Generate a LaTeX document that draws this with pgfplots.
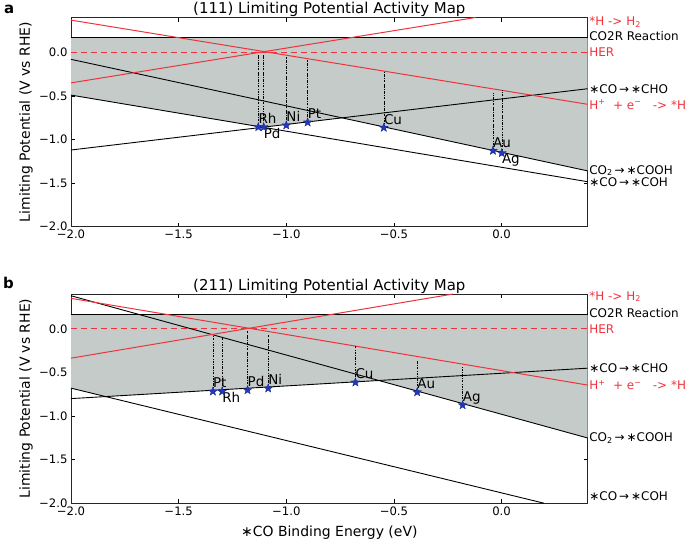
\documentclass[border=0pt]{standalone}
\usepackage{pgfplots}
\pgfplotsset{compat=1.18}
\usepackage{fontspec}
\setmainfont{DejaVu Sans}
\definecolor{myred}{RGB}{240,50,60}
\definecolor{shade}{RGB}{197,203,201}
\definecolor{starblue}{RGB}{35,55,190}
\pgfdeclareplotmark{fstar}{%
  \pgfpathmoveto{\pgfpointpolar{90}{\pgfplotmarksize}}%
  \pgfpathlineto{\pgfpointscale{0.42}{\pgfpointpolar{126}{\pgfplotmarksize}}}%
  \pgfpathlineto{\pgfpointpolar{162}{\pgfplotmarksize}}%
  \pgfpathlineto{\pgfpointscale{0.42}{\pgfpointpolar{198}{\pgfplotmarksize}}}%
  \pgfpathlineto{\pgfpointpolar{234}{\pgfplotmarksize}}%
  \pgfpathlineto{\pgfpointscale{0.42}{\pgfpointpolar{270}{\pgfplotmarksize}}}%
  \pgfpathlineto{\pgfpointpolar{306}{\pgfplotmarksize}}%
  \pgfpathlineto{\pgfpointscale{0.42}{\pgfpointpolar{342}{\pgfplotmarksize}}}%
  \pgfpathlineto{\pgfpointpolar{18}{\pgfplotmarksize}}%
  \pgfpathlineto{\pgfpointscale{0.42}{\pgfpointpolar{54}{\pgfplotmarksize}}}%
  \pgfpathclose
  \pgfusepathqfillstroke
}
\pgfplotsset{
  panel/.style={
    scale only axis, width=516.7bp, height=209.2bp,
    xmin=-2, xmax=0.4, ymin=-2, ymax=0.4,
    xtick={-2,-1.5,-1,-0.5,0}, xticklabels={−2.0,−1.5,−1.0,−0.5,0.0},
    ytick={-2,-1.5,-1,-0.5,0}, yticklabels={−2.0,−1.5,−1.0,−0.5,0.0},
    xtick pos=both, ytick pos=both, xticklabel pos=lower, yticklabel pos=left,
    tick align=inside, major tick length=4bp,
    tick style={black, line width=0.6pt},
    tick label style={font=\fontsize{11.7}{13}\selectfont},
    axis line style={line width=0.8pt, black!85},
    clip=false,
    every axis title shift=0pt,
    ylabel={Limiting Potential (V vs RHE)},
    ylabel style={font=\fontsize{14}{16}\selectfont, at={(axis description cs:-0.087,0.5)}, anchor=center},
    title style={font=\fontsize{15}{17}\selectfont, at={(axis description cs:0.5,1.019)}, anchor=base},
  },
  stars/.style={only marks, mark=fstar, mark size=4.6pt, mark options={fill=starblue, draw=starblue!70!black, line width=0.3pt}},
}
\tikzset{
  blk/.style={black, line width=0.9pt},
  rd/.style={myred, line width=1pt},
  dd/.style={black, line width=0.5pt, dash pattern=on 2.5pt off 1.3pt on 0.6pt off 1.3pt},
  lbl/.style={font=\fontsize{12}{14}\selectfont, anchor=west, inner sep=1.5bp},
  ml/.style={font=\fontsize{13.5}{15}\selectfont, inner sep=0pt, anchor=base west},
}
\begin{document}
\begin{tikzpicture}
\useasboundingbox (0,0) rectangle (685bp,-542bp);
\node[font=\fontsize{15}{17}\selectfont\bfseries, anchor=base west, inner sep=0pt] at (4bp,-13.5bp) {a};
\node[font=\fontsize{15}{17}\selectfont\bfseries, anchor=base west, inner sep=0pt] at (3bp,-288.5bp) {b};
% ---------------- (111) -----------------
\begin{axis}[panel, at={(71bp,-17.5bp)}, anchor=north west,
  title={(111) Limiting Potential Activity Map}]
\addplot[fill=shade, draw=none] coordinates {(-2,0.17) (0.4,0.17) (0.4,-1.36) (-0.741,-0.751) (-1.109,-0.859) (-2,-0.49)} -- cycle;
\addplot[blk] coordinates {(-2,0.17) (0.4,0.17)};
\addplot[rd, dash pattern=on 6bp off 4bp] coordinates {(-2,0) (0.4,0)};
\addplot[blk] coordinates {(-2,-0.08) (0.4,-1.36)};
\addplot[blk] coordinates {(-2,-0.49) (0.4,-1.484)};
\addplot[blk] coordinates {(-2,-1.12) (0.4,-0.417)};
\addplot[rd] coordinates {(-2,-0.35) (-0.121,0.4)};
\addplot[rd] coordinates {(-2,0.37) (0.4,-0.596)};
\addplot[dd] coordinates {(-1.13,-0.857) (-1.13,-0.03)};
\addplot[dd] coordinates {(-1.105,-0.857) (-1.105,-0.03)};
\addplot[dd] coordinates {(-1.0,-0.837) (-1.0,-0.05)};
\addplot[dd] coordinates {(-0.901,-0.803) (-0.901,-0.085)};
\addplot[dd] coordinates {(-0.547,-0.864) (-0.547,-0.214)};
\addplot[dd] coordinates {(-0.040,-1.128) (-0.040,-0.47)};
\addplot[dd] coordinates {(0.001,-1.155) (0.001,-0.43)};
\addplot[stars] coordinates {(-1.13,-0.857) (-1.105,-0.857) (-1.0,-0.837) (-0.901,-0.803) (-0.547,-0.864) (-0.040,-1.128) (0.001,-1.155)};
\node[ml] at (axis cs:-1.13,-0.817) {Rh};
\node[ml] at (axis cs:-1.105,-0.99) {Pd};
\node[ml] at (axis cs:-1.0,-0.797) {Ni};
\node[ml] at (axis cs:-0.901,-0.763) {Pt};
\node[ml] at (axis cs:-0.547,-0.824) {Cu};
\node[ml] at (axis cs:-0.040,-1.088) {Au};
\node[ml] at (axis cs:0.001,-1.278) {Ag};
\node[lbl, text=myred] at (axis cs:0.4,0.345) {*H -> H\textsubscript{2}};
\node[lbl] at (axis cs:0.4,0.19) {CO2R Reaction};
\node[lbl, text=myred] at (axis cs:0.4,0.005) {HER};
\node[lbl] at (axis cs:0.4,-0.417) {∗CO\,→\,∗CHO};
\node[lbl, text=myred] at (axis cs:0.4,-0.60) {H\textsuperscript{+}\ \ + e\textsuperscript{−}\ \ \ -> *H};
\node[lbl] at (axis cs:0.4,-1.357) {CO\textsubscript{2}\,→\,∗COOH};
\node[lbl] at (axis cs:0.4,-1.484) {∗CO\,→\,∗COH};
\end{axis}
% ---------------- (211) -----------------
\begin{axis}[panel, at={(71bp,-294bp)}, anchor=north west,
  title={(211) Limiting Potential Activity Map},
  xlabel={∗CO Binding Energy (eV)},
  xlabel style={font=\fontsize{14}{16}\selectfont, at={(axis description cs:0.5,-0.161)}, anchor=base}]
\addplot[fill=shade, draw=none] coordinates {(-2,0.17) (0.4,0.17) (0.4,-1.252) (-0.569,-0.592) (-1.839,-0.777) (-2,-0.68)} -- cycle;
\addplot[blk] coordinates {(-2,0.17) (0.4,0.17)};
\addplot[rd, dash pattern=on 6bp off 4bp] coordinates {(-2,0) (0.4,0)};
\addplot[blk] coordinates {(-2,0.38) (0.4,-1.252)};
\addplot[blk] coordinates {(-2,-0.80) (0.4,-0.451)};
\addplot[blk] coordinates {(-2,-0.68) (0.197,-2.0)};
\addplot[rd] coordinates {(-2,-0.336) (-0.225,0.4)};
\addplot[rd] coordinates {(-2,0.35) (0.4,-0.645)};
\addplot[dd] coordinates {(-1.341,-0.718) (-1.341,-0.07)};
\addplot[dd] coordinates {(-1.298,-0.718) (-1.298,-0.088)};
\addplot[dd] coordinates {(-1.180,-0.702) (-1.180,-0.02)};
\addplot[dd] coordinates {(-1.084,-0.683) (-1.084,-0.07)};
\addplot[dd] coordinates {(-0.679,-0.614) (-0.679,-0.196)};
\addplot[dd] coordinates {(-0.392,-0.726) (-0.392,-0.37)};
\addplot[dd] coordinates {(-0.181,-0.875) (-0.181,-0.43)};
\addplot[stars] coordinates {(-1.341,-0.718) (-1.298,-0.718) (-1.180,-0.702) (-1.084,-0.683) (-0.679,-0.614) (-0.392,-0.726) (-0.181,-0.875)};
\node[ml] at (axis cs:-1.341,-0.678) {Pt};
\node[ml] at (axis cs:-1.298,-0.85) {Rh};
\node[ml] at (axis cs:-1.180,-0.662) {Pd};
\node[ml] at (axis cs:-1.084,-0.643) {Ni};
\node[ml] at (axis cs:-0.679,-0.574) {Cu};
\node[ml] at (axis cs:-0.392,-0.686) {Au};
\node[ml] at (axis cs:-0.181,-0.835) {Ag};
\node[lbl, text=myred] at (axis cs:0.4,0.37) {*H -> H\textsubscript{2}};
\node[lbl] at (axis cs:0.4,0.18) {CO2R Reaction};
\node[lbl, text=myred] at (axis cs:0.4,0.0) {HER};
\node[lbl] at (axis cs:0.4,-0.45) {∗CO\,→\,∗CHO};
\node[lbl, text=myred] at (axis cs:0.4,-0.645) {H\textsuperscript{+}\ \ + e\textsuperscript{−}\ \ \ -> *H};
\node[lbl] at (axis cs:0.4,-1.25) {CO\textsubscript{2}\,→\,∗COOH};
\node[lbl] at (axis cs:0.4,-1.92) {∗CO\,→\,∗COH};
\end{axis}
\end{tikzpicture}
\end{document}
